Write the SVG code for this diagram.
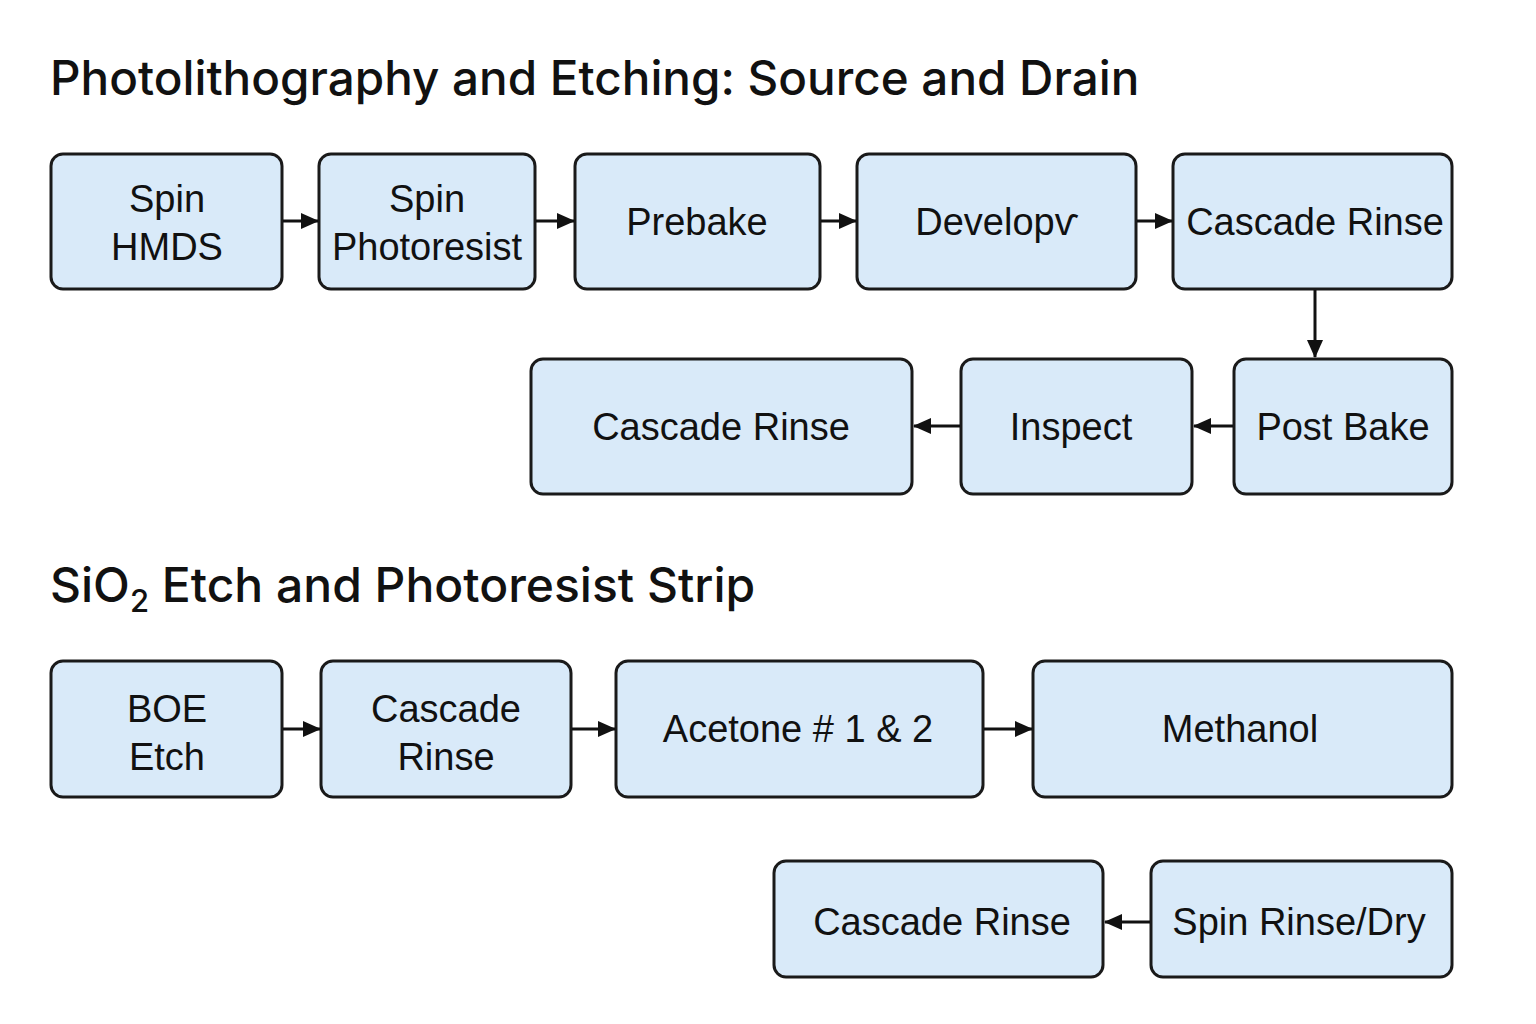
<svg xmlns="http://www.w3.org/2000/svg" width="1536" height="1024" viewBox="0 0 1536 1024">
<defs>
<style>
.box{fill:#d9eaf9;stroke:#1a1a1a;stroke-width:3}
.t{font-family:"Liberation Sans",Arial,sans-serif;font-size:38px;fill:#111;text-anchor:middle}
.h{font-family:Inter,"Liberation Sans",Arial,sans-serif;font-size:47.6px;font-weight:500;fill:#111}
.c{stroke:#111;stroke-width:3;fill:none;marker-end:url(#ah)}
</style>
<marker id="ah" markerWidth="18" markerHeight="16" refX="17" refY="8" orient="auto" markerUnits="userSpaceOnUse">
<path d="M0,0 L18,8 L0,16 Z" fill="#111"/>
</marker>
</defs>
<rect width="1536" height="1024" fill="#fff"/>
<text class="h" x="50" y="95">Photolithography and Etching: Source and Drain</text>
<text class="h" x="50" y="602" style="font-size:48px">SiO<tspan font-size="31" dy="10">2</tspan><tspan dy="-10"> Etch and Photoresist Strip</tspan></text>

<g id="n1"><rect class="box" x="51" y="154" width="231" height="135" rx="12"/><text class="t" x="167" y="212">Spin</text><text class="t" x="167" y="260">HMDS</text></g>
<g id="n2"><rect class="box" x="319" y="154" width="216" height="135" rx="12"/><text class="t" x="427" y="212">Spin</text><text class="t" x="427" y="260">Photoresist</text></g>
<g id="n3"><rect class="box" x="575" y="154" width="245" height="135" rx="12"/><text class="t" x="697" y="235">Prebake</text></g>
<g id="n4"><rect class="box" x="857" y="154" width="279" height="135" rx="12"/><text class="t" x="997" y="235">Developѵ</text></g>
<g id="n5"><rect class="box" x="1173" y="154" width="279" height="135" rx="12"/><text class="t" x="1315" y="235">Cascade Rinse</text></g>
<g id="n6"><rect class="box" x="1234" y="359" width="218" height="135" rx="12"/><text class="t" x="1343" y="440">Post Bake</text></g>
<g id="n7"><rect class="box" x="961" y="359" width="231" height="135" rx="12"/><text class="t" x="1071" y="440">Inspect</text></g>
<g id="n8"><rect class="box" x="531" y="359" width="381" height="135" rx="12"/><text class="t" x="721" y="440">Cascade Rinse</text></g>

<g id="n9"><rect class="box" x="51" y="661" width="231" height="136" rx="12"/><text class="t" x="167" y="722">BOE</text><text class="t" x="167" y="770">Etch</text></g>
<g id="n10"><rect class="box" x="321" y="661" width="250" height="136" rx="12"/><text class="t" x="446" y="722">Cascade</text><text class="t" x="446" y="770">Rinse</text></g>
<g id="n11"><rect class="box" x="616" y="661" width="367" height="136" rx="12"/><text class="t" x="798" y="742">Acetone # 1 &amp; 2</text></g>
<g id="n12"><rect class="box" x="1033" y="661" width="419" height="136" rx="12"/><text class="t" x="1240" y="742">Methanol</text></g>
<g id="n13"><rect class="box" x="1151" y="861" width="301" height="116" rx="12"/><text class="t" x="1299" y="935">Spin Rinse/Dry</text></g>
<g id="n14"><rect class="box" x="774" y="861" width="329" height="116" rx="12"/><text class="t" x="942" y="935">Cascade Rinse</text></g>

<g id="connectors">
<line class="c" x1="283" y1="221" x2="318" y2="221"/>
<line class="c" x1="536" y1="221" x2="574" y2="221"/>
<line class="c" x1="821" y1="221" x2="856" y2="221"/>
<line class="c" x1="1137" y1="221" x2="1172" y2="221"/>
<line class="c" x1="1315" y1="290" x2="1315" y2="357"/>
<line class="c" x1="1233" y1="426" x2="1194" y2="426"/>
<line class="c" x1="960" y1="426" x2="914" y2="426"/>
<line class="c" x1="283" y1="729" x2="320" y2="729"/>
<line class="c" x1="572" y1="729" x2="615" y2="729"/>
<line class="c" x1="984" y1="729" x2="1032" y2="729"/>
<line class="c" x1="1150" y1="922" x2="1105" y2="922"/>
</g>
</svg>
